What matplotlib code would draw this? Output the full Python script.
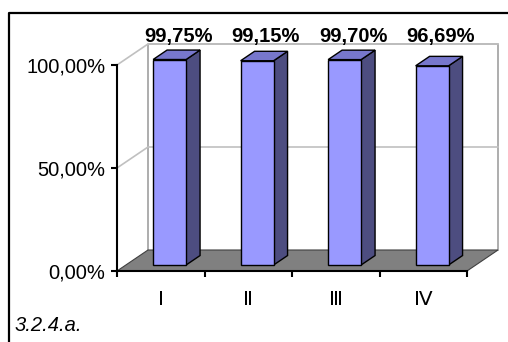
import matplotlib
matplotlib.use("Agg")
import matplotlib.pyplot as plt
from matplotlib.patches import Polygon, Rectangle
from matplotlib.lines import Line2D

plt.rcParams['font.family'] = ['Liberation Sans', 'DejaVu Sans']

categories = ['\u2160', '\u2161', '\u2162', '\u2163']
values = [99.75, 99.15, 99.70, 96.69]
value_labels = ['99,75%', '99,15%', '99,70%', '96,69%']
yticks = [0, 50, 100]
ytick_labels = ['0,00%', '50,00%', '100,00%']
caption = '3.2.4.a.'

W, H = 508, 342
fig = plt.figure(figsize=(W / 100, H / 100), dpi=100)

# front plane of the 3D box in pixels: x 117..467, y 65..271 (from top)
ax = fig.add_axes([117 / W, (H - 271) / H, 350 / W, 206 / H])
ax.set_xlim(0, len(categories))
ax.set_ylim(0, 100)
ax.patch.set_visible(False)

# depth offset of the back wall, in data units
DX = 31 / 87.5
DY = 21 / 2.06
n = len(categories)
grey = '#A0A0A0'

# back wall and gridlines
ax.plot([DX, DX, n + DX, n + DX], [DY, 100 + DY, 100 + DY, DY],
        color=grey, lw=1.2, clip_on=False, zorder=1)
for t in yticks[1:]:
    ax.plot([0, DX, n + DX], [t, t + DY, t + DY], color='#C0C0C0', lw=1.2,
            clip_on=False, zorder=1)

# floor
ax.add_patch(Polygon([(0, 0), (n, 0), (n + DX, DY), (DX, DY)], closed=True,
                     facecolor='#808080', edgecolor='#404040', lw=0.8,
                     clip_on=False, zorder=2))

# bars
f0, bd, w = 0.286, 0.45, 0.377
for i, v in enumerate(values):
    x0 = i + 0.5 + f0 * DX - w / 2
    x1 = x0 + w
    yb = f0 * DY
    yt = yb + v
    sx, sy = bd * DX, bd * DY
    ax.add_patch(Polygon([(x1, yb), (x1 + sx, yb + sy), (x1 + sx, yt + sy), (x1, yt)],
                         facecolor='#4D4D80', edgecolor='black', lw=1.0,
                         clip_on=False, zorder=3))
    ax.add_patch(Polygon([(x0, yt), (x1, yt), (x1 + sx, yt + sy), (x0 + sx, yt + sy)],
                         facecolor='#7777CC', edgecolor='black', lw=1.0,
                         clip_on=False, zorder=3))
    ax.add_patch(Rectangle((x0, yb), w, v, facecolor='#9999FF', edgecolor='black',
                           lw=1.0, clip_on=False, zorder=4))
    ax.text(i + 0.5 + f0 * DX + sx / 2 + 0.02, 111.2, value_labels[i],
            ha='center', va='baseline', fontsize=14.5, fontweight='bold',
            clip_on=False)

# axes
for s in ['top', 'right']:
    ax.spines[s].set_visible(False)
ax.spines['left'].set_linewidth(1.5)
ax.spines['bottom'].set_linewidth(1.5)
ax.spines['left'].set_zorder(5)
ax.spines['bottom'].set_zorder(5)
ax.set_yticks(yticks)
ax.set_yticklabels(ytick_labels, fontsize=14.5)
ax.set_xticks(range(n + 1))
ax.set_xticklabels([])
ax.tick_params(axis='both', direction='out', length=4.5, width=1.5, color='black')
ax.tick_params(axis='y', pad=4)

for i, c in enumerate(categories):
    ax.text(i + 0.5, -16.5, c, ha='center', va='baseline', fontsize=14.5,
            clip_on=False)

# chart frame (left and top edges)
fig.add_artist(Line2D([9 / W, 9 / W, 1.0], [0.0, (H - 13) / H, (H - 13) / H],
                      transform=fig.transFigure, color='black', lw=1.6))
fig.text(15 / W, (H - 331) / H, caption, fontsize=14.5, style='italic',
         ha='left', va='baseline')

fig.savefig('out.png', dpi=100)
